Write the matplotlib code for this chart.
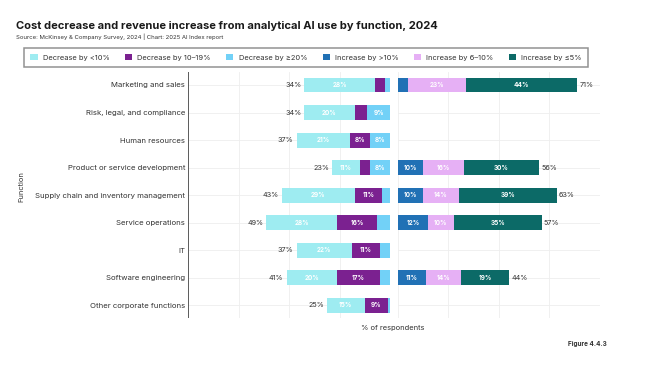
import matplotlib
matplotlib.use('Agg')
import matplotlib.pyplot as plt
import matplotlib.ticker as ticker
import numpy as np

plt.rcParams['font.family'] = ['Inter', 'DejaVu Sans']

functions = ['Marketing and sales', 'Risk, legal, and compliance', 'Human resources',
             'Product or service development', 'Supply chain and inventory management',
             'Service operations', 'IT', 'Software engineering', 'Other corporate functions']

# decrease side (stacked outward from zero: >=20, 10-19, <10)
dec_lt10 = [28, 20, 21, 11, 29, 28, 22, 20, 15]
dec_10_19 = [4, 5, 8, 4, 11, 16, 11, 17, 9]
dec_ge20 = [2, 9, 8, 8, 3, 5, 4, 4, 1]
dec_total = [34, 34, 37, 23, 43, 49, 37, 41, 25]

# increase side (stacked from zero: >10, 6-10, <=5)
inc_gt10 = [4, 0, 0, 10, 10, 12, 0, 11, 0]
inc_6_10 = [23, 0, 0, 16, 14, 10, 0, 14, 0]
inc_le5 = [44, 0, 0, 30, 39, 35, 0, 19, 0]
inc_total = [71, None, None, 56, 63, 57, None, 44, None]

legend_labels = ['Decrease by <10%', 'Decrease by 10–19%', 'Decrease by ≥20%',
                 'Increase by >10%', 'Increase by 6–10%', 'Increase by ≤5%']
colors = ['#9EECF1', '#7B2190', '#72D1F7', '#2171B5', '#E6B0F5', '#0C6A67']

fig = plt.figure(figsize=(6.6, 3.77), dpi=100)
axL = fig.add_axes([0.285, 0.157, 0.306, 0.652])
axR = fig.add_axes([0.603, 0.157, 0.306, 0.652])

y = np.arange(len(functions))
h = 0.54
lab_kw = dict(ha='center', va='center', color='white', fontsize=4.6, fontweight='bold')


def draw_stack(ax, series, cols):
    left = np.zeros(len(functions))
    bars = []
    for vals, c in zip(series, cols):
        vals = np.array(vals, dtype=float)
        b = ax.barh(y, vals, left=left, height=h, color=c, linewidth=0, zorder=3)
        bars.append(b)
        for yi, (l, v) in enumerate(zip(left, vals)):
            if v >= 8:
                ax.text(l + v / 2, yi, f'{int(v)}%', **lab_kw, zorder=4)
        left = left + vals
    return bars


hL = draw_stack(axL, [dec_ge20, dec_10_19, dec_lt10], [colors[2], colors[1], colors[0]])
hR = draw_stack(axR, [inc_gt10, inc_6_10, inc_le5], [colors[3], colors[4], colors[5]])

for yi, t in enumerate(dec_total):
    axL.text(t + 1.2, yi, f'{t}%', ha='right', va='center', fontsize=5.2, color='#333333')
for yi, t in enumerate(inc_total):
    if t is not None:
        axR.text(t + 0.8, yi, f'{t}%', ha='left', va='center', fontsize=5.2, color='#333333')

for ax in (axL, axR):
    ax.set_xlim(0, 80)
    ax.set_ylim(8.45, -0.47)
    ax.xaxis.set_major_locator(ticker.MultipleLocator(20))
    ax.set_yticks(y)
    ax.grid(True, color='#EEEEEE', linewidth=0.6, zorder=0)
    ax.tick_params(length=0, labelbottom=False)
    for s in ax.spines.values():
        s.set_visible(False)

axL.invert_xaxis()
axL.set_yticklabels(functions, fontsize=5.6, color='#333333')
axL.tick_params(axis='y', pad=2)
axR.set_yticklabels([])
# dark vertical axis line at the far left of the decrease panel
axL.axvline(80, color='#333333', linewidth=1.1, zorder=5)

fig.text(0.033, 0.504, 'Function', rotation=90, ha='center', va='center', fontsize=5.4, color='#333333')
fig.text(0.595, 0.13, '% of respondents', ha='center', va='center', fontsize=5.4, color='#333333')

fig.text(0.024, 0.93, 'Cost decrease and revenue increase from analytical AI use by function, 2024',
         fontsize=8, fontweight='bold', color='#1a1a1a', va='center')
fig.text(0.024, 0.902, 'Source: McKinsey & Company Survey, 2024 | Chart: 2025 AI Index report',
         fontsize=4.3, color='#333333', va='center')
fig.text(0.92, 0.087, 'Figure 4.4.3', fontsize=4.6, fontweight='bold', color='#333333', ha='right', va='center')

handles = [hL[2], hL[1], hL[0], hR[0], hR[1], hR[2]]
leg = fig.legend(handles, legend_labels, loc='center', bbox_to_anchor=(0.464, 0.848), ncol=6,
                 fontsize=5.4, frameon=True, fancybox=False, edgecolor='#777777',
                 handlelength=0.95, handleheight=0.95, handletextpad=0.7, columnspacing=2.05,
                 borderpad=0.85)
leg.get_frame().set_linewidth(1.1)
for t in leg.get_texts():
    t.set_color('#333333')

fig.savefig('out.png', dpi=100)
